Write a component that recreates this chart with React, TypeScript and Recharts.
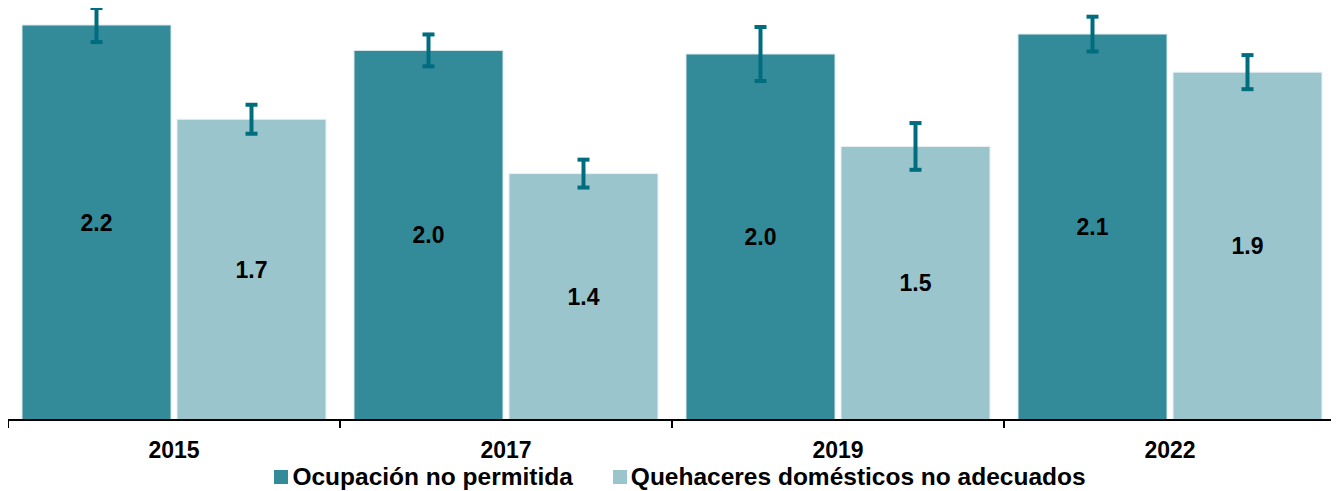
import React from "react";
import { BarChart, Bar, XAxis, YAxis, Legend, ErrorBar, LabelList } from "recharts";

const categories = ["2015", "2017", "2019", "2022"];
const ocupacion = [2.18, 2.04, 2.02, 2.13];
const ocupacionErr = [0.094, 0.088, 0.149, 0.096];
const quehaceres = [1.66, 1.36, 1.51, 1.92];
const quehaceresErr = [0.08, 0.077, 0.129, 0.094];
const seriesNames = ["Ocupación no permitida", "Quehaceres domésticos no adecuados"];

const data = categories.map((c, i) => ({
  year: c,
  a: ocupacion[i],
  aErr: ocupacionErr[i],
  b: quehaceres[i],
  bErr: quehaceresErr[i],
}));

const W = 1331;
const H = 483;
const PLOT_W = 1328;
const BAND = PLOT_W / categories.length;
const DARK = "#338a99";
const LIGHT = "#9bc5cc";
const ERR = "#006d7e";
const FONT = "'Liberation Sans', Arial, sans-serif";

const Tick = (props: any) => {
  const { x, y, payload, index } = props;
  const left = x - BAND / 2;
  const right = x + BAND / 2;
  return (
    <g>
      <line x1={left} y1={y} x2={left} y2={y + 8} stroke="#000" strokeWidth={2} />
      {index === categories.length - 1 && (
        <line x1={right} y1={y} x2={right} y2={y + 8} stroke="#000" strokeWidth={2} />
      )}
      <text x={x} y={y + 38} textAnchor="middle" fontFamily={FONT} fontWeight="bold" fontSize={23} fill="#000">
        {payload.value}
      </text>
    </g>
  );
};

const LegendContent = () => (
  <div
    style={{
      display: "flex",
      justifyContent: "center",
      alignItems: "center",
      fontFamily: FONT,
      fontWeight: "bold",
      fontSize: 24.5,
      color: "#000",
      paddingLeft: 16,
      marginTop: -2,
    }}
  >
    {seriesNames.map((n, i) => (
      <div key={n} style={{ display: "flex", alignItems: "center", marginRight: i === 0 ? 40 : 0 }}>
        <span style={{ width: 14, height: 14, background: i === 0 ? DARK : LIGHT, display: "inline-block", marginRight: 4 }} />
        <span>{n}</span>
      </div>
    ))}
  </div>
);

const labelStyle = { fontFamily: FONT, fontWeight: "bold", fontSize: 23, fill: "#000" };

export default function App() {
  return (
    <BarChart
      width={W}
      height={H}
      data={data}
      margin={{ top: 0, right: 3, bottom: 0, left: 0 }}
      barCategoryGap={14}
      barGap={6}
    >
      <XAxis
        dataKey="year"
        axisLine={{ stroke: "#000", strokeWidth: 2 }}
        tickLine={false}
        tickSize={0}
        tickMargin={0}
        height={45}
        tick={<Tick />}
        interval={0}
      />
      <YAxis hide domain={[0, 2.27]} />
      <Legend verticalAlign="bottom" height={26} content={<LegendContent />} />
      <Bar dataKey="a" fill={DARK} stroke="#dbe9ec" strokeWidth={1} isAnimationActive={false}>
        <ErrorBar dataKey="aErr" width={6} stroke={ERR} strokeWidth={4} direction="y" />
        <LabelList dataKey="a" position="center" formatter={(v: any) => Number(v).toFixed(1)} style={labelStyle} />
      </Bar>
      <Bar dataKey="b" fill={LIGHT} stroke="#e8f1f3" strokeWidth={1} isAnimationActive={false}>
        <ErrorBar dataKey="bErr" width={6} stroke={ERR} strokeWidth={4} direction="y" />
        <LabelList dataKey="b" position="center" formatter={(v: any) => Number(v).toFixed(1)} style={labelStyle} />
      </Bar>
    </BarChart>
  );
}
